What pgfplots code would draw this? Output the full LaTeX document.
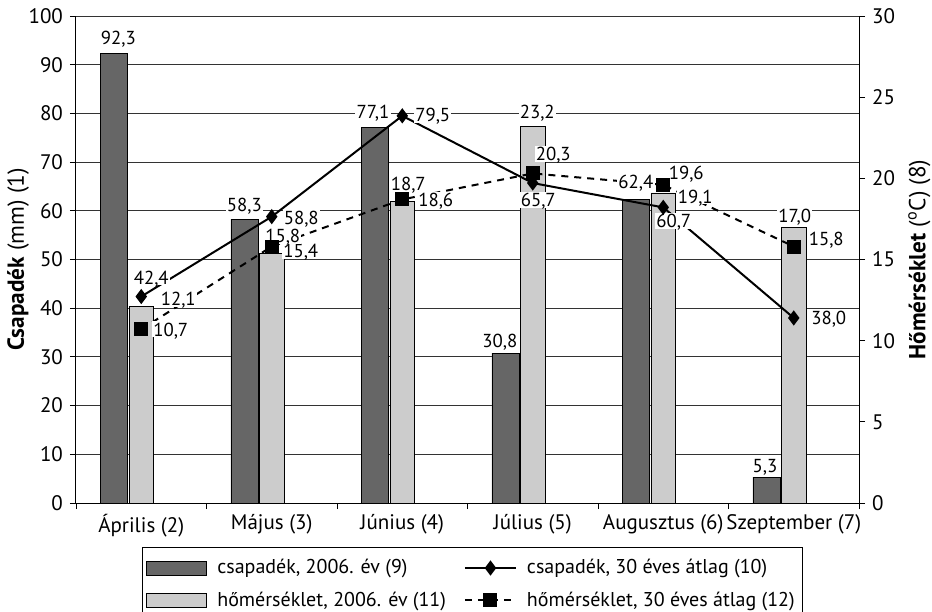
\documentclass[border=0pt]{standalone}
\usepackage{fontspec}
\setmainfont{PT Sans}
\usepackage{pgfplots}
\pgfplotsset{compat=1.18}
\usepackage{pgfplotstable}

\definecolor{darkbar}{HTML}{666666}
\definecolor{lightbar}{HTML}{CCCCCC}

% x = month index, y = value, dx/dy = label offset (pt)
\pgfplotstableread{
x y dx dy
0 92.3 2.25 8
1 58.3 0 7
2 77.1 -1 8
3 30.8 -2.75 6
4 62.4 0 8.5
5 5.3 -0.75 5.75
}\csapadek

\pgfplotstableread{
x y dx dy
0 12.1 18.5 3.75
1 15.4 14.5 1
2 18.6 16.75 0.5
3 23.2 2.25 7.5
4 19.1 16 -1.75
5 17.0 0.5 5.5
}\homerseklet

\pgfplotstableread{
x y dx dy
0 42.4 5 9.5
1 58.8 14.75 -0.5
2 79.5 15.25 0.5
3 65.7 2.75 -8.5
4 60.7 5.25 -6.8
5 38.0 17.5 0
}\atlagcs

\pgfplotstableread{
x y dx dy
0 10.7 14.75 0
1 15.8 5.5 5.25
2 18.7 3 8
3 20.3 10.25 9.75
4 19.6 11.5 6.25
5 15.8 16.25 4
}\atlaghom

\pgfplotsset{
  lbl/.style={draw=none, mark=none, forget plot,
    point meta=\thisrow{y},
    visualization depends on={\thisrow{dx} \as \dx},
    visualization depends on={\thisrow{dy} \as \dy},
    nodes near coords={\pgfmathprintnumber[fixed,fixed zerofill,precision=1,use comma,assume math mode=true]{\pgfplotspointmeta}},
    every node near coord/.append style={anchor=center, xshift=\dx pt, yshift=\dy pt,
      fill=white, inner sep=0.6pt, text depth=0pt, font=\fontsize{9.4}{11}\selectfont}},
  barleg/.style={legend image code/.code={\draw[##1] (0pt,-3.5pt) rectangle (30pt,3.5pt);}},
  lineleg/.style={legend image code/.code={\draw[mark repeat=2,mark phase=2,##1] plot coordinates {(0pt,0pt) (12.75pt,0pt) (25.5pt,0pt)};}},
  tempscale/.style={y filter/.expression={y*10/3}},
}

\begin{document}
\begin{tikzpicture}
\path[use as bounding box] (-38pt,-54pt) rectangle (428pt,251.5pt);
\begin{axis}[
  width=391.5pt, height=243.5pt, scale only axis,
  xmin=-0.5, xmax=5.5, ymin=0, ymax=100,
  axis x line*=bottom, axis y line*=left,
  tick align=outside,
  xtick={0,...,5},
  xticklabels={Április (2),Május (3),Június (4),Július (5),Augusztus (6),Szeptember (7)},
  major x tick style={draw=none},
  minor xtick={-0.5,0.5,...,5.5},
  minor tick length=3pt, major tick length=3pt,
  ytick={0,10,...,100},
  ymajorgrids, grid style={black!80, line width=0.45pt},
  tick style={black, line width=0.45pt},
  axis line style={black, line width=0.5pt},
  /pgf/number format/assume math mode=true,
  ticklabel style={font=\fontsize{10.5}{12}\selectfont},
  xticklabel style={yshift=1pt},
  ylabel={\textbf{Csapadék} (mm) (1)},
  every axis y label/.style={at={(axis description cs:-0.074,0.5)}, rotate=90, anchor=center,
    font=\fontsize{11.6}{13}\selectfont},
  legend columns=2,
  legend cell align=left,
  legend style={at={(axis description cs:0.5064,-0.09)}, anchor=north,
    draw=black, line width=0.5pt, font=\fontsize{10}{12}\selectfont,
    inner xsep=2pt, inner ysep=4pt, row sep=3.5pt,
    /tikz/every odd column/.append style={column sep=3pt},
    /tikz/every even column/.append style={column sep=7pt}},
]
\addlegendimage{barleg, fill=darkbar, draw=black, line width=0.5pt}
\addlegendentry{csapadék, 2006. év (9)}
\addlegendimage{lineleg, black, line width=1pt, mark=diamond*, mark size=3pt}
\addlegendentry{csapadék, 30 éves átlag (10)}
\addlegendimage{barleg, fill=lightbar, draw=black, line width=0.5pt}
\addlegendentry{hőmérséklet, 2006. év (11)}
\addlegendimage{lineleg, black, line width=1pt, dash pattern=on 3.5pt off 3pt, mark=square*, mark size=3pt, mark options={solid}}
\addlegendentry{hőmérséklet, 30 éves átlag (12)}

% bars
\addplot[ybar, bar width=0.207, bar shift=0pt, fill=darkbar, draw=black, line width=0.4pt, forget plot]
  table[x expr=\thisrow{x}-0.209, y=y]{\csapadek};
\addplot[ybar, bar width=0.188, bar shift=0pt, fill=lightbar, draw=black, line width=0.4pt, forget plot, tempscale]
  table[x=x, y=y]{\homerseklet};

% data labels
\addplot[lbl] table[x expr=\thisrow{x}-0.209, y=y]{\csapadek};
\addplot[lbl, tempscale] table[x=x, y=y]{\homerseklet};
\addplot[lbl] table[x=x, y=y]{\atlagcs};
\addplot[lbl, tempscale] table[x=x, y=y]{\atlaghom};

% lines
\addplot[black, line width=1pt, mark=diamond*, mark size=3pt, forget plot]
  table[x=x, y=y]{\atlagcs};
\addplot[black, line width=1pt, dash pattern=on 3.5pt off 3pt, mark=square*, mark size=3pt,
  mark options={solid}, forget plot, tempscale]
  table[x=x, y=y]{\atlaghom};
\end{axis}

\begin{axis}[
  width=391.5pt, height=243.5pt, scale only axis,
  xmin=-0.5, xmax=5.5, ymin=0, ymax=30,
  axis x line=none, axis y line*=right,
  tick align=outside, major tick length=3pt,
  ytick={0,5,...,30},
  tick style={black, line width=0.45pt},
  axis line style={black, line width=0.5pt},
  /pgf/number format/assume math mode=true,
  ticklabel style={font=\fontsize{10.5}{12}\selectfont},
  ylabel={\textbf{Hőmérséklet} (\textsuperscript{o}C) (8)},
  every axis y label/.style={at={(axis description cs:1.077,0.5)}, rotate=90, anchor=center,
    font=\fontsize{11.6}{13}\selectfont},
]
\end{axis}
\end{tikzpicture}
\end{document}
